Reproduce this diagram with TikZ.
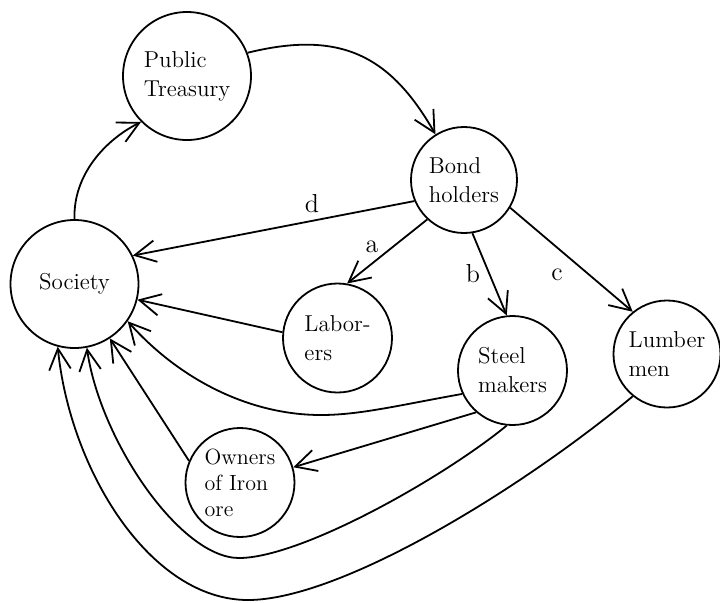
\documentclass[tikz,border=0pt]{standalone}
\usetikzlibrary{arrows.meta}
\begin{document}
\begin{tikzpicture}[x=0.5pt,y=-0.5pt,line width=0.9pt,
  agent/.style={circle,draw,align=left,inner sep=0pt,
    font=\fontsize{11.5}{14.5}\selectfont},
  flow/.style={-{Straight Barb[length=10.5pt,width=10.8pt]}},
  tag/.style={inner sep=0pt,font=\fontsize{13}{15}\selectfont}]
\useasboundingbox (0,0) rectangle (720,602);

% agents
\node[agent,minimum size=64pt]   (pt)     at (187,76)    {Public\\Treasury};
\node[agent,minimum size=53pt]   (bond)   at (464,180)   {Bond\\holders};
\node[agent,minimum size=64pt]   (soc)    at (74.5,284)  {Society};
\node[agent,minimum size=54.5pt] (lab)    at (337.5,338) {Labor-\\ers};
\node[agent,minimum size=54.5pt] (steel)  at (512.5,370.5) {Steel\\makers};
\node[agent,minimum size=53.5pt] (lumber) at (667,354)   {Lumber\\men};
\node[agent,minimum size=54.5pt,font=\fontsize{11}{13}\selectfont]
                                 (owners) at (240,482.5) {Owners\\of Iron\\ore};

% labels of the bond holders' payments
\node[tag] (ld) at (312,204) {d};
\node[tag] (la) at (372,247) {a};
\node[tag] (lb) at (473,274) {b};
\node[tag] (lc) at (557,275) {c};

% money flows
\draw[flow] (soc.90) .. controls (73,175) and (105,140) .. (pt.225);
\draw[flow] (pt.21) .. controls (340,30) and (390,55) .. (bond.122);
\draw[flow] (bond.203) -- (soc.26);
\draw[flow] (bond.227) -- (lab.80);
\draw[flow] (bond.279) -- (steel.96);
\draw[flow] (bond.329) -- (lumber.129);
\draw[flow] (lab.174) -- (soc.-14);
\draw[flow] (steel.205) .. controls (400,405) and (360,415) .. (321,415)
                        .. controls (250,415) and (180,380) .. (soc.-35);
\draw[flow] (steel.229) -- (owners.16);
\draw[flow] (owners.157) -- (soc.-57);
\draw[flow] (steel.264) .. controls (440,480) and (300,558) .. (239,558)
                        .. controls (180,558) and (100,440) .. (soc.-79);
\draw[flow] (lumber.231) .. controls (520,490) and (340,600) .. (248,600)
                         .. controls (150,600) and (70,470) .. (soc.-105);
\end{tikzpicture}
\end{document}
